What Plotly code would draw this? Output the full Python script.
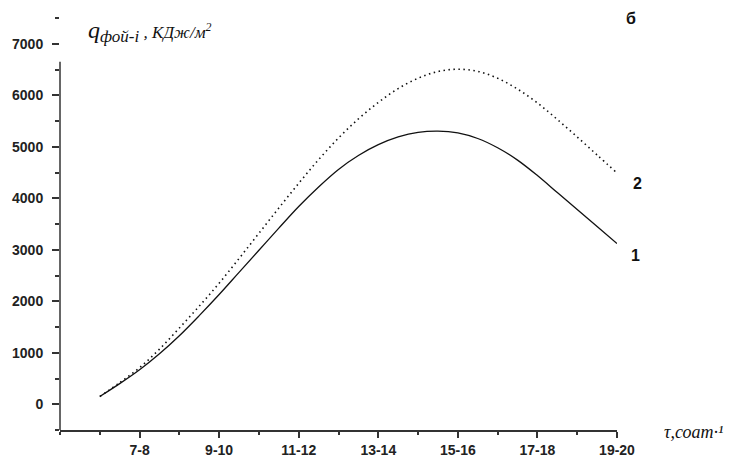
import plotly.graph_objects as go

# ---- data ----
hours = [6.5, 7.0, 7.5, 8.0, 8.5, 9.0, 9.5, 10.0, 10.5, 11.0, 11.5, 12.0, 12.5,
         13.0, 13.5, 14.0, 14.5, 15.0, 15.5, 16.0, 16.5, 17.0, 17.5, 18.0, 18.5,
         19.0, 19.5]
q1 = [150, 400, 670, 980, 1330, 1720, 2130, 2560, 2990, 3420, 3840, 4220, 4560,
      4830, 5040, 5190, 5280, 5305, 5270, 5160, 4980, 4740, 4440, 4110, 3780,
      3450, 3120]
q2 = [150, 420, 710, 1070, 1480, 1905, 2350, 2830, 3320, 3810, 4290, 4750, 5170,
      5540, 5860, 6130, 6330, 6460, 6505, 6465, 6330, 6120, 5850, 5530, 5190,
      4840, 4490]
tick_vals = [7.5, 9.5, 11.5, 13.5, 15.5, 17.5, 19.5]
tick_text = ["7-8", "9-10", "11-12", "13-14", "15-16", "17-18", "19-20"]
y_ticks = [0, 1000, 2000, 3000, 4000, 5000, 6000, 7000]

W, H = 733, 457
L, R, T, B = 60, 116, 18, 27
pw, ph = W - L - R, H - T - B


def px(x):
    return (x - L) / pw


def py(y):
    return (H - B - y) / ph


fig = go.Figure()
fig.add_trace(go.Scatter(x=hours, y=q1, mode="lines", line=dict(color="#111", width=1.3, shape="spline"),
                         showlegend=False, hoverinfo="skip"))
fig.add_trace(go.Scatter(x=hours, y=q2, mode="lines",
                         line=dict(color="#111", width=1.6, shape="spline", dash="1.5px,3.5px"),
                         showlegend=False, hoverinfo="skip"))

tickfont = dict(family="Liberation Sans, Arial, sans-serif", size=14, color="#222", weight="bold")

fig.update_layout(
    width=W, height=H,
    margin=dict(l=L, r=R, t=T, b=B, autoexpand=False),
    paper_bgcolor="white", plot_bgcolor="white",
    xaxis=dict(range=[5.5, 19.5], tickmode="array", tickvals=tick_vals, ticktext=tick_text,
               ticks="outside", ticklen=6, tickwidth=1.5, tickcolor="#333", automargin=False,
               minor=dict(ticks="outside", ticklen=3, tickwidth=1.5, tickcolor="#333",
                          tickmode="linear", tick0=5.5, dtick=1, showgrid=False),
               showline=True, linecolor="#333", linewidth=1.5, showgrid=False, zeroline=False,
               tickfont=tickfont),
    yaxis=dict(range=[-500, 7500], tickmode="array", tickvals=y_ticks,
               ticks="outside", ticklen=7, tickwidth=1.5, tickcolor="#333", automargin=False,
               minor=dict(ticks="outside", ticklen=4, tickwidth=1.5, tickcolor="#333",
                          tickmode="linear", tick0=-500, dtick=500, showgrid=False),
               showline=False, showgrid=False, zeroline=False, tickfont=tickfont,
               ticklabelstandoff=6),
)

# y axis line (starts below the top of the tick range, as in the original)
fig.add_shape(type="line", xref="paper", yref="y", x0=0, x1=0, y0=-500, y1=6650,
              line=dict(color="#333", width=1.5))

serif = "Liberation Serif, Times New Roman, serif"
fig.add_annotation(xref="paper", yref="paper", x=px(86), y=py(32), xanchor="left", yanchor="middle",
                   showarrow=False,
                   text=("<i><span style='font-size:24px'>q</span>"
                         "<sub><span style='font-size:17px'>фой-i</span></sub> , КДж/м<sup>2</sup></i>"),
                   font=dict(family=serif, size=17, color="#111"))
fig.add_annotation(xref="paper", yref="paper", x=px(662), y=py(432), xanchor="left", yanchor="middle",
                   showarrow=False, text="<i>τ,соат·¹</i>",
                   font=dict(family=serif, size=18, color="#111"))
lab = dict(family="Liberation Sans, Arial, sans-serif", size=16, color="#111", weight="bold")
for txt, x0, y0 in [("б", 631, 18), ("2", 637, 183), ("1", 635, 255)]:
    fig.add_annotation(xref="paper", yref="paper", x=px(x0), y=py(y0), xanchor="center",
                       yanchor="middle", showarrow=False, text=txt, font=lab)

fig.write_html("out.html", config={"displayModeBar": False},
               post_script="document.body.style.margin='0';document.body.style.overflow='hidden';")
